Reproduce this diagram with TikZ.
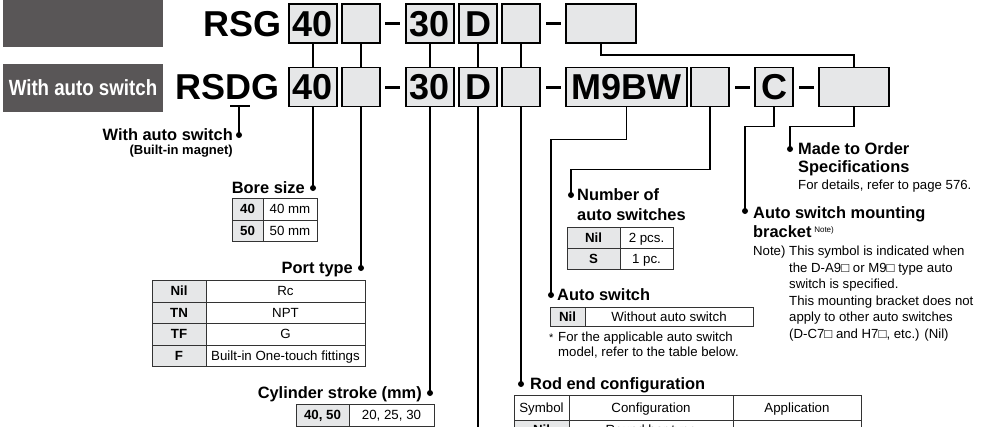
\documentclass[tikz,border=0pt]{standalone}
\usepackage{fontspec}
\setmainfont{Liberation Sans}
\definecolor{boxgray}{HTML}{E6E7E8}
\definecolor{hdrgray}{HTML}{595657}
\definecolor{tline}{HTML}{333333}
\newcommand{\fs}[1]{\fontsize{#1}{#1}\selectfont}
\tikzset{
  codebox/.style={draw, line width=1.5pt, fill=boxgray, inner sep=0pt, minimum height=39pt,
    font=\fs{36}\bfseries, text height=25.8pt, text depth=0pt},
  codetxt/.style={inner sep=0pt, font=\fs{36}\bfseries, text height=25.8pt, text depth=0pt},
  dashbar/.style={fill=black, inner sep=0pt, minimum width=15pt, minimum height=3pt},
  conn/.style={line width=1.5pt},
  dot/.style={circle, fill=black, inner sep=0pt, minimum size=6pt},
  lbl/.style={inner sep=0pt, font=\fs{16.4}\bfseries, text height=11.7pt, text depth=0pt},
  sublbl/.style={inner sep=0pt, font=\fs{13}\bfseries, text height=9.3pt, text depth=0pt},
  txt/.style={inner sep=0pt, font=\fs{13.2}, text height=9.45pt, text depth=0pt},
  tcell/.style={draw=tline, line width=1pt, inner sep=0pt, font=\fs{13.3}, text height=9.5pt, text depth=0pt},
  hdr/.style={fill=hdrgray, inner sep=0pt, text=white, font=\fs{22}\bfseries, text height=15.8pt, text depth=0pt},
}
% name, x1, y1, x2, y2, fill, text
\newcommand{\tcell}[7]{\node[tcell, fill=#6, minimum width={(#4)-(#2)}, minimum height={(#5)-(#3)}] (#1) at ({((#2)+(#4))/2},{((#3)+(#5))/2}) {#7};}
\begin{document}
\begin{tikzpicture}[x=1pt, y=-1pt]
\useasboundingbox (0,0) rectangle (985,426);
\clip (0,0) rectangle (985,426);

% header boxes
\node[hdr, minimum width=160pt, minimum height=47pt] (h1) at (83,23.5) {};
\node[hdr, minimum width=160pt, minimum height=48pt] (h2) at (83,88) {\scalebox{0.85}[1]{With auto switch}};

% row 1
\node[codetxt, anchor=east] (rsg) at (282,23.5) {RSG};
\node[codebox, minimum width=48pt] (a40) at (313,23.5) {40};
\node[codebox, minimum width=38pt] (aE1) at (361,23.5) {};
\node[dashbar] (ad1) at (392.5,23.5) {};
\node[codebox, minimum width=48pt] (a30) at (430,23.5) {30};
\node[codebox, minimum width=38pt] (aD) at (478,23.5) {D};
\node[codebox, minimum width=38pt] (aE2) at (521,23.5) {};
\node[dashbar] (ad2) at (553.5,23.5) {};
\node[codebox, minimum width=70pt] (aBig) at (601,23.5) {};

% row 2
\node[codetxt, anchor=east] (rsdg) at (280,87) {RSDG};
\node[codebox, minimum width=48pt] (b40) at (313,87) {40};
\node[codebox, minimum width=38pt] (bE1) at (361,87) {};
\node[dashbar] (bd1) at (392.5,87) {};
\node[codebox, minimum width=48pt] (b30) at (430,87) {30};
\node[codebox, minimum width=38pt] (bD) at (478,87) {D};
\node[codebox, minimum width=38pt] (bE2) at (521,87) {};
\node[dashbar] (bd2) at (553.5,87) {};
\node[codebox, minimum width=121pt] (bM) at (626.5,87) {M9BW};
\node[codebox, minimum width=38pt] (bE3) at (710,87) {};
\node[dashbar] (bd3) at (742,87) {};
\node[codebox, minimum width=38pt] (bC) at (774,87) {C};
\node[dashbar] (bd4) at (806,87) {};
\node[codebox, minimum width=70pt] (bBig) at (854,87) {};

% row 1 -> row 2
\draw[conn] (a40) -- (b40);
\draw[conn] (aE1) -- (bE1);
\draw[conn] (a30) -- (b30);
\draw[conn] (aD) -- (bD);
\draw[conn] (aE2) -- (bE2);
\draw[conn] (aBig.south) -- ++(0,11) -| (bBig.north);

% dots
\node[dot] (dWith) at (239,135) {};
\node[dot] (dBore) at (313,188) {};
\node[dot] (dPort) at (361,268) {};
\node[dot] (dStroke) at (430,393) {};
\node[dot] (dRod) at (521,384) {};
\node[dot] (dAS) at (551,295) {};
\node[dot] (dNum) at (571,195) {};
\node[dot] (dMnt) at (745,211) {};
\node[dot] (dMTO) at (790,149) {};
\coordinate (dEnd) at (478,440);
\coordinate (uL) at (230,106);
\coordinate (uR) at (250,106);

% connectors from row 2
\draw[conn] (uL) -- (uR);
\draw[conn] (dWith.center |- uL) -- (dWith.center);
\draw[conn] (b40) -- (dBore.center);
\draw[conn] (bE1) -- (dPort.center);
\draw[conn] (b30) -- (dStroke.center);
\draw[conn] (bD) -- (dEnd);
\draw[conn] (bE2) -- (dRod.center);
\draw[conn] (bM.south) -- ++(0,32) -| (dAS.center);
\draw[conn] (bE3.south) -- ++(0,62) -| (dNum.center);
\draw[conn] (bC.south) -- ++(0,19) -| (dMnt.center);
\draw[conn] (bBig.south) -- ++(0,19) -| (dMTO.center);

% left labels
\node[lbl, anchor=east] (tWith) at ([xshift=-6pt]dWith.center) {With auto switch};
\node[sublbl, anchor=east] (tMag) at (233,150) {(Built-in magnet)};
\node[lbl, anchor=east] (tBore) at ([xshift=-8pt]dBore.center) {Bore size};
\node[lbl, anchor=east] (tPort) at ([xshift=-8pt]dPort.center) {Port type};
\node[lbl, anchor=east] (tStroke) at ([xshift=-8pt]dStroke.center) {Cylinder stroke (mm)};

% bore table
\tcell{bo1}{232}{198}{263}{220}{boxgray}{\bfseries 40}
\tcell{bo2}{263}{198}{317}{220}{white}{40 mm}
\tcell{bo3}{232}{220}{263}{241}{boxgray}{\bfseries 50}
\tcell{bo4}{263}{220}{317}{241}{white}{50 mm}

% port table
\tcell{po1}{152}{280}{206}{302}{boxgray}{\bfseries Nil}
\tcell{po2}{206}{280}{365}{302}{white}{Rc}
\tcell{po3}{152}{302}{206}{323}{boxgray}{\bfseries TN}
\tcell{po4}{206}{302}{365}{323}{white}{NPT}
\tcell{po5}{152}{323}{206}{345}{boxgray}{\bfseries TF}
\tcell{po6}{206}{323}{365}{345}{white}{G}
\tcell{po7}{152}{345}{206}{366}{boxgray}{\bfseries F}
\tcell{po8}{206}{345}{365}{366}{white}{Built-in One-touch fittings}

% stroke table
\tcell{st1}{296}{404}{349}{426}{boxgray}{\bfseries 40, 50}
\tcell{st2}{349}{404}{434}{426}{white}{20, 25, 30}

% number of auto switches
\node[lbl, anchor=west] (tNum1) at ([xshift=6pt]dNum.center) {Number of};
\node[lbl, anchor=west] (tNum2) at ([yshift=-20pt]tNum1.west) {auto switches};
\tcell{nu1}{567}{227}{620}{248}{boxgray}{\bfseries Nil}
\tcell{nu2}{620}{227}{673}{248}{white}{2 pcs.}
\tcell{nu3}{567}{248}{620}{269}{boxgray}{\bfseries S}
\tcell{nu4}{620}{248}{673}{269}{white}{1 pc.}

% auto switch
\node[lbl, anchor=west] (tAS) at ([xshift=6pt]dAS.center) {Auto switch};
\tcell{as1}{550}{307}{585}{326}{boxgray}{\bfseries Nil}
\tcell{as2}{585}{307}{753}{326}{white}{Without auto switch}
\node[inner sep=0pt, anchor=west, font=\fs{11}] (tAst) at (549,338) {*};
\node[txt, anchor=west] (tAS1) at (558,337) {For the applicable auto switch};
\node[txt, anchor=west] (tAS2) at (558,352) {model, refer to the table below.};

% rod end configuration
\node[lbl, anchor=west] (tRod) at ([xshift=9pt]dRod.center) {Rod end configuration};
\tcell{ro1}{514}{395}{569}{420}{white}{Symbol}
\tcell{ro2}{569}{395}{733}{420}{white}{Configuration}
\tcell{ro3}{733}{395}{861}{420}{white}{Application}
\tcell{ro4}{514}{420}{569}{439}{boxgray}{\bfseries Nil}
\tcell{ro5}{569}{420}{733}{439}{white}{Round bar type}
\tcell{ro6}{733}{420}{861}{439}{white}{}

% made to order
\node[lbl, anchor=west] (tMTO1) at ([xshift=8pt]dMTO.center) {Made to Order};
\node[lbl, anchor=west] (tMTO2) at ([yshift=-18pt]tMTO1.west) {Specifications};
\node[txt, anchor=west] (tMTO3) at ([yshift=-36pt]tMTO1.west) {For details, refer to page 576.};

% auto switch mounting bracket
\node[lbl, anchor=west] (tMnt1) at ([xshift=8pt,yshift=-2pt]dMnt.center) {Auto switch mounting};
\node[lbl, anchor=west] (tMnt2) at ([yshift=-19pt]tMnt1.west) {bracket\,\raisebox{5pt}{\fs{8}\mdseries Note)}};
\node[txt, anchor=west] (tN0) at (753,251) {Note)};
\node[txt, anchor=west] (tN1) at (789,251) {This symbol is indicated when};
\node[txt, anchor=west] (tN2) at (789,267.5) {the D-A9□ or M9□ type auto};
\node[txt, anchor=west] (tN3) at (789,284) {switch is specified.};
\node[txt, anchor=west] (tN4) at (789,300.5) {This mounting bracket does not};
\node[txt, anchor=west] (tN5) at (789,317) {apply to other auto switches};
\node[txt, anchor=west] (tN6) at (789,333.5) {(D-C7□ and H7□, etc.) (Nil)};
\end{tikzpicture}
\end{document}
